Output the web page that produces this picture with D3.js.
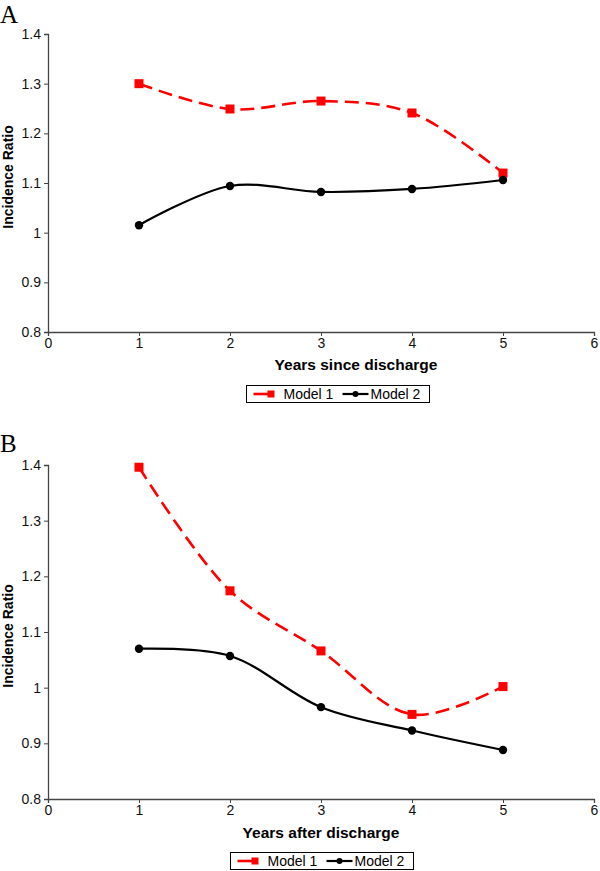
<!DOCTYPE html>
<html><head><meta charset="utf-8">
<script src="https://cdn.jsdelivr.net/npm/d3@7"></script>
<style>body{margin:0;background:#fff}svg{display:block}</style>
</head><body>
<svg id="c" width="600" height="871"></svg>
<script>
const years = [1, 2, 3, 4, 5];
const xTicks = [0, 1, 2, 3, 4, 5, 6];
const yTicks = [0.8, 0.9, 1.0, 1.1, 1.2, 1.3, 1.4];
const yTickLabels = ["0.8", "0.9", "1", "1.1", "1.2", "1.3", "1.4"];
const seriesNames = ["Model 1", "Model 2"];
const panelA_model1 = [1.300, 1.249, 1.265, 1.241, 1.120];
const panelA_model2 = [1.015, 1.094, 1.082, 1.088, 1.106];
const panelB_model1 = [1.396, 1.174, 1.066, 0.952, 1.002];
const panelB_model2 = [1.070, 1.057, 0.965, 0.923, 0.888];

const svg = d3.select("#c");
const FONT = "Liberation Sans, Arial, sans-serif";

function panel(cfg) {
  const g = svg.append("g");
  const x = d3.scaleLinear().domain([0, 6]).range([48, 594]);
  const y = d3.scaleLinear().domain([0.8, 1.4]).range([cfg.yBottom, cfg.yTop]);

  g.append("text").attr("x", 0).attr("y", cfg.letterY).text(cfg.letter)
    .attr("font-family", "Liberation Serif, Times New Roman, serif").attr("font-size", 25);

  const ya = g.append("g").attr("transform", "translate(48,0)")
    .call(d3.axisLeft(y).tickValues(yTicks).tickSize(4).tickPadding(3)
      .tickFormat((d, i) => yTickLabels[i]));
  const xa = g.append("g").attr("transform", `translate(0,${cfg.yBottom})`)
    .call(d3.axisBottom(x).tickValues(xTicks).tickSize(4).tickPadding(2).tickFormat(d3.format("d")));
  [ya, xa].forEach(a => {
    a.selectAll("path").attr("stroke", "#444").attr("stroke-width", 1.3);
    a.selectAll("line").attr("stroke", "#444");
    a.selectAll("text").attr("font-family", FONT).attr("font-size", 14).attr("fill", "#111");
  });

  g.append("text").attr("transform", `translate(13,${cfg.yLabelY}) rotate(-90)`)
    .attr("text-anchor", "middle").attr("font-family", FONT).attr("font-weight", "bold")
    .attr("font-size", 14).text("Incidence Ratio");

  g.append("text").attr("x", cfg.xTitleX).attr("y", cfg.xTitleY).attr("text-anchor", "middle")
    .attr("font-family", FONT).attr("font-weight", "bold").attr("font-size", 15.5).text(cfg.xTitle);

  const line = d3.line().x((d, i) => x(years[i])).y(d => y(d)).curve(d3.curveCatmullRom.alpha(0.5));

  g.append("path").attr("d", line(cfg.m1)).attr("fill", "none").attr("stroke", "#ff0000")
    .attr("stroke-width", 2.6).attr("stroke-dasharray", "14,7");
  g.append("path").attr("d", line(cfg.m2)).attr("fill", "none").attr("stroke", "#000")
    .attr("stroke-width", 2.2);

  g.selectAll(".sq").data(cfg.m1).enter().append("rect")
    .attr("x", (d, i) => x(years[i]) - 4.5).attr("y", d => y(d) - 4.5)
    .attr("width", 9).attr("height", 9).attr("fill", "#ff0000");
  g.selectAll(".ci").data(cfg.m2).enter().append("circle")
    .attr("cx", (d, i) => x(years[i])).attr("cy", d => y(d)).attr("r", 4.2).attr("fill", "#000");

  // legend
  const L = g.append("g").attr("transform", `translate(${cfg.legX},${cfg.legY})`);
  L.append("rect").attr("x", 0).attr("y", 0).attr("width", 183).attr("height", 17)
    .attr("fill", "#fff").attr("stroke", "#000").attr("stroke-width", 1);
  L.append("line").attr("x1", 7).attr("x2", 24).attr("y1", 8.5).attr("y2", 8.5)
    .attr("stroke", "#ff0000").attr("stroke-width", 2.6);
  L.append("rect").attr("x", 21).attr("y", 5).attr("width", 7).attr("height", 7).attr("fill", "#ff0000");
  L.append("text").attr("x", 37).attr("y", 13.5).attr("font-family", FONT).attr("font-size", 14).text(seriesNames[0]);
  L.append("line").attr("x1", 96).attr("x2", 122).attr("y1", 8.5).attr("y2", 8.5)
    .attr("stroke", "#000").attr("stroke-width", 2.2);
  L.append("circle").attr("cx", 109).attr("cy", 8.5).attr("r", 3).attr("fill", "#000");
  L.append("text").attr("x", 124).attr("y", 13.5).attr("font-family", FONT).attr("font-size", 14).text(seriesNames[1]);
}

panel({letter: "A", letterY: 23, yTop: 34, yBottom: 332, yLabelY: 177,
  xTitle: "Years since discharge", xTitleX: 356, xTitleY: 370,
  m1: panelA_model1, m2: panelA_model2, legX: 246.5, legY: 385.5});
panel({letter: "B", letterY: 452, yTop: 465, yBottom: 799, yLabelY: 636,
  xTitle: "Years after discharge", xTitleX: 321, xTitleY: 838,
  m1: panelB_model1, m2: panelB_model2, legX: 230.5, legY: 852.5});
</script>
</body></html>
